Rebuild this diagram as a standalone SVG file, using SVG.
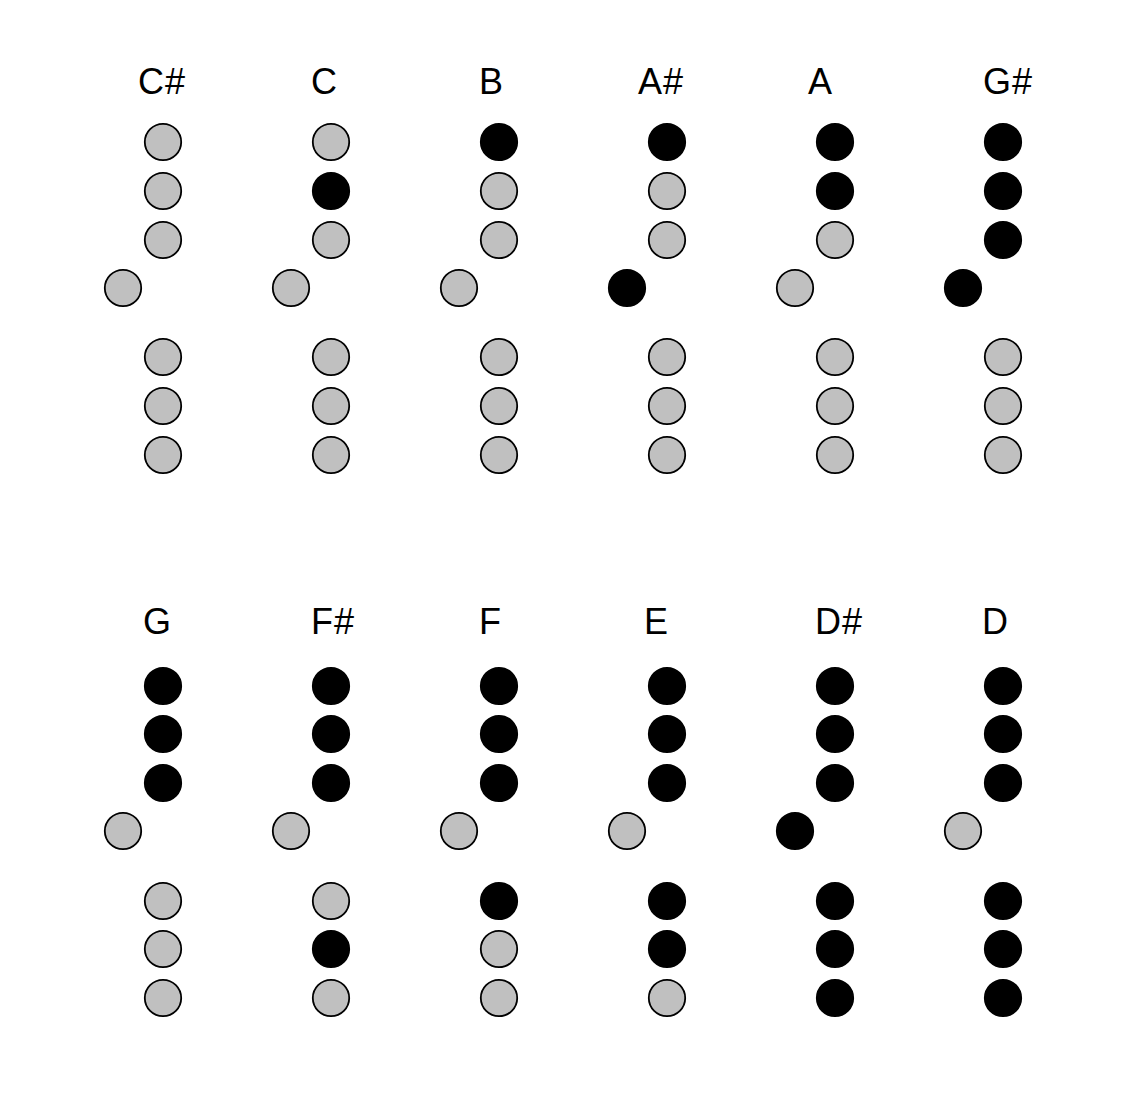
<svg xmlns="http://www.w3.org/2000/svg" width="1130" height="1106" viewBox="0 0 1130 1106">
<style>
.lbl{font-family:"Liberation Sans",Arial,sans-serif;font-size:36px;fill:#000;letter-spacing:1px}
.o{fill:#c0c0c0;stroke:#000;stroke-width:1.8}
.c{fill:#000;stroke:#000;stroke-width:1.8}
</style>
<rect width="1130" height="1106" fill="#fff"/>
<g id="note-Csharp">
<text class="lbl" x="138" y="94">C#</text>
<circle class="o" cx="163" cy="142" r="18.2"/><circle class="o" cx="163" cy="191" r="18.2"/><circle class="o" cx="163" cy="240" r="18.2"/><circle class="o" cx="123" cy="288" r="18.2"/>
<circle class="o" cx="163" cy="357" r="18.2"/><circle class="o" cx="163" cy="406" r="18.2"/><circle class="o" cx="163" cy="455" r="18.2"/>
</g>
<g id="note-C">
<text class="lbl" x="311" y="94">C</text>
<circle class="o" cx="331" cy="142" r="18.2"/><circle class="c" cx="331" cy="191" r="18.2"/><circle class="o" cx="331" cy="240" r="18.2"/><circle class="o" cx="291" cy="288" r="18.2"/>
<circle class="o" cx="331" cy="357" r="18.2"/><circle class="o" cx="331" cy="406" r="18.2"/><circle class="o" cx="331" cy="455" r="18.2"/>
</g>
<g id="note-B">
<text class="lbl" x="479" y="94">B</text>
<circle class="c" cx="499" cy="142" r="18.2"/><circle class="o" cx="499" cy="191" r="18.2"/><circle class="o" cx="499" cy="240" r="18.2"/><circle class="o" cx="459" cy="288" r="18.2"/>
<circle class="o" cx="499" cy="357" r="18.2"/><circle class="o" cx="499" cy="406" r="18.2"/><circle class="o" cx="499" cy="455" r="18.2"/>
</g>
<g id="note-Asharp">
<text class="lbl" x="638" y="94">A#</text>
<circle class="c" cx="667" cy="142" r="18.2"/><circle class="o" cx="667" cy="191" r="18.2"/><circle class="o" cx="667" cy="240" r="18.2"/><circle class="c" cx="627" cy="288" r="18.2"/>
<circle class="o" cx="667" cy="357" r="18.2"/><circle class="o" cx="667" cy="406" r="18.2"/><circle class="o" cx="667" cy="455" r="18.2"/>
</g>
<g id="note-A">
<text class="lbl" x="808" y="94">A</text>
<circle class="c" cx="835" cy="142" r="18.2"/><circle class="c" cx="835" cy="191" r="18.2"/><circle class="o" cx="835" cy="240" r="18.2"/><circle class="o" cx="795" cy="288" r="18.2"/>
<circle class="o" cx="835" cy="357" r="18.2"/><circle class="o" cx="835" cy="406" r="18.2"/><circle class="o" cx="835" cy="455" r="18.2"/>
</g>
<g id="note-Gsharp">
<text class="lbl" x="983" y="94">G#</text>
<circle class="c" cx="1003" cy="142" r="18.2"/><circle class="c" cx="1003" cy="191" r="18.2"/><circle class="c" cx="1003" cy="240" r="18.2"/><circle class="c" cx="963" cy="288" r="18.2"/>
<circle class="o" cx="1003" cy="357" r="18.2"/><circle class="o" cx="1003" cy="406" r="18.2"/><circle class="o" cx="1003" cy="455" r="18.2"/>
</g>
<g id="note-G">
<text class="lbl" x="143" y="634">G</text>
<circle class="c" cx="163" cy="686" r="18.2"/><circle class="c" cx="163" cy="734" r="18.2"/><circle class="c" cx="163" cy="783" r="18.2"/><circle class="o" cx="123" cy="831" r="18.2"/>
<circle class="o" cx="163" cy="901" r="18.2"/><circle class="o" cx="163" cy="949" r="18.2"/><circle class="o" cx="163" cy="998" r="18.2"/>
</g>
<g id="note-Fsharp">
<text class="lbl" x="311" y="634">F#</text>
<circle class="c" cx="331" cy="686" r="18.2"/><circle class="c" cx="331" cy="734" r="18.2"/><circle class="c" cx="331" cy="783" r="18.2"/><circle class="o" cx="291" cy="831" r="18.2"/>
<circle class="o" cx="331" cy="901" r="18.2"/><circle class="c" cx="331" cy="949" r="18.2"/><circle class="o" cx="331" cy="998" r="18.2"/>
</g>
<g id="note-F">
<text class="lbl" x="479" y="634">F</text>
<circle class="c" cx="499" cy="686" r="18.2"/><circle class="c" cx="499" cy="734" r="18.2"/><circle class="c" cx="499" cy="783" r="18.2"/><circle class="o" cx="459" cy="831" r="18.2"/>
<circle class="c" cx="499" cy="901" r="18.2"/><circle class="o" cx="499" cy="949" r="18.2"/><circle class="o" cx="499" cy="998" r="18.2"/>
</g>
<g id="note-E">
<text class="lbl" x="644" y="634">E</text>
<circle class="c" cx="667" cy="686" r="18.2"/><circle class="c" cx="667" cy="734" r="18.2"/><circle class="c" cx="667" cy="783" r="18.2"/><circle class="o" cx="627" cy="831" r="18.2"/>
<circle class="c" cx="667" cy="901" r="18.2"/><circle class="c" cx="667" cy="949" r="18.2"/><circle class="o" cx="667" cy="998" r="18.2"/>
</g>
<g id="note-Dsharp">
<text class="lbl" x="815" y="634">D#</text>
<circle class="c" cx="835" cy="686" r="18.2"/><circle class="c" cx="835" cy="734" r="18.2"/><circle class="c" cx="835" cy="783" r="18.2"/><circle class="c" cx="795" cy="831" r="18.2"/>
<circle class="c" cx="835" cy="901" r="18.2"/><circle class="c" cx="835" cy="949" r="18.2"/><circle class="c" cx="835" cy="998" r="18.2"/>
</g>
<g id="note-D">
<text class="lbl" x="982" y="634">D</text>
<circle class="c" cx="1003" cy="686" r="18.2"/><circle class="c" cx="1003" cy="734" r="18.2"/><circle class="c" cx="1003" cy="783" r="18.2"/><circle class="o" cx="963" cy="831" r="18.2"/>
<circle class="c" cx="1003" cy="901" r="18.2"/><circle class="c" cx="1003" cy="949" r="18.2"/><circle class="c" cx="1003" cy="998" r="18.2"/>
</g>
<g id="connectors"></g>
</svg>
